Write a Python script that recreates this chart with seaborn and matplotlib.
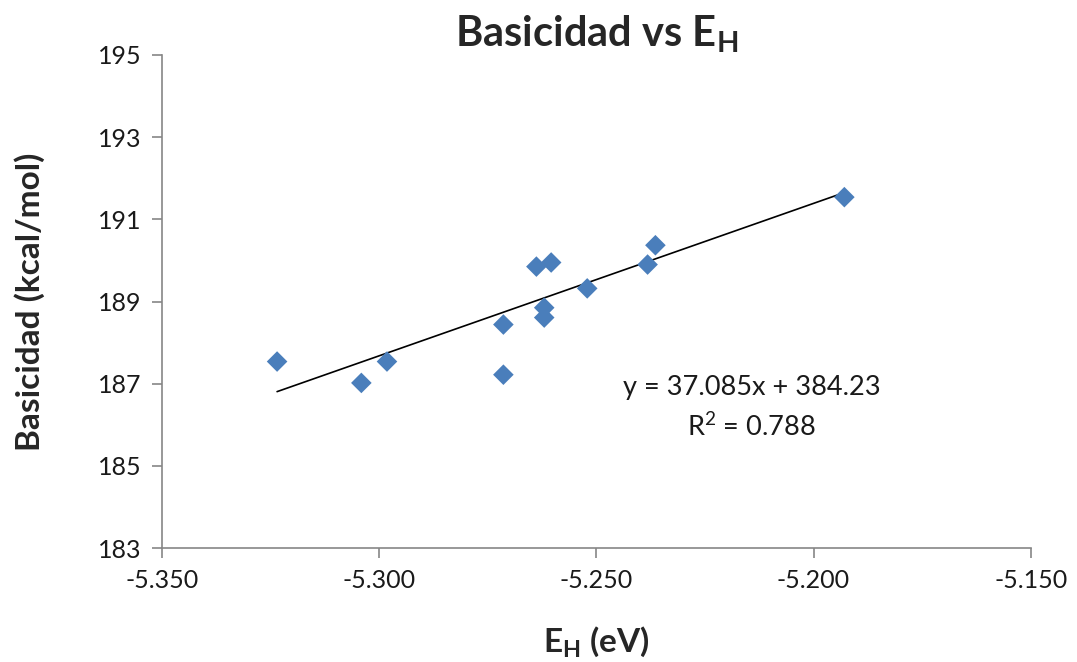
import numpy as np
import pandas as pd
import matplotlib
matplotlib.use("Agg")
import matplotlib.pyplot as plt
import seaborn as sns

# ---------- data ----------
e_h = [-5.3235, -5.3041, -5.2982, -5.2714, -5.2714, -5.2638, -5.2604,
       -5.2620, -5.2620, -5.2521, -5.2382, -5.2364, -5.1929]
basicidad = [187.54, 187.02, 187.54, 188.44, 187.22, 189.85, 189.95,
             188.85, 188.61, 189.32, 189.90, 190.37, 191.54]
slope, intercept, r2 = 37.085, 384.23, 0.788

x_ticks = [-5.350, -5.300, -5.250, -5.200, -5.150]
y_ticks = [183, 185, 187, 189, 191, 193, 195]

sns.set_style("white")
plt.rcParams['font.family'] = ['Lato', 'DejaVu Sans']
plt.rcParams['mathtext.fontset'] = 'custom'
plt.rcParams['mathtext.rm'] = 'Lato'
plt.rcParams['mathtext.bf'] = 'Lato:bold'

df = pd.DataFrame({"eh": e_h, "bas": basicidad})
fit = pd.DataFrame({"eh": [min(e_h), max(e_h)]})
fit["bas"] = slope * fit["eh"] + intercept

fig = plt.figure(figsize=(10.77, 6.62), dpi=100)
ax = fig.add_axes([0.1504, 0.172, 0.8066, 0.745])

sns.lineplot(data=fit, x="eh", y="bas", color="black", lw=1.2, ax=ax)
sns.scatterplot(data=df, x="eh", y="bas", marker="D", s=110, color="#4a7ebb",
                edgecolor="none", ax=ax, zorder=3)

ax.set_xlim(-5.350, -5.150)
ax.set_ylim(183, 195)
ax.set_xticks(x_ticks)
ax.set_xticklabels([f"{t:.3f}" for t in x_ticks])
ax.set_yticks(y_ticks)

for s in ["top", "right"]:
    ax.spines[s].set_visible(False)
for s in ["left", "bottom"]:
    ax.spines[s].set_color("#868686")
    ax.spines[s].set_linewidth(1.2)
ax.tick_params(axis="both", direction="out", length=7, width=1.2, color="#868686",
               labelsize=18, labelcolor="#1a1a1a", pad=8, left=True, bottom=True)

ax.set_title(r"Basicidad vs $\mathbf{E_H}$", fontsize=30, fontweight="bold", pad=6)
ax.set_xlabel(r"$\mathbf{E_H}$ (eV)", fontsize=24, fontweight="bold")
ax.set_ylabel("Basicidad (kcal/mol)", fontsize=24, fontweight="bold")
ax.xaxis.set_label_coords(0.5, -0.155)
ax.yaxis.set_label_coords(-0.135, 0.5)

ax.text(-5.2143, 186.92, f"y = {slope}x + {intercept}", ha="center", va="center",
        fontsize=19.5, color="#1a1a1a")
ax.text(-5.2143, 185.95, r"R$^{\mathregular{2}}$ = " + f"{r2}", ha="center", va="center",
        fontsize=19.5, color="#1a1a1a")

fig.savefig("out.png", dpi=100)
